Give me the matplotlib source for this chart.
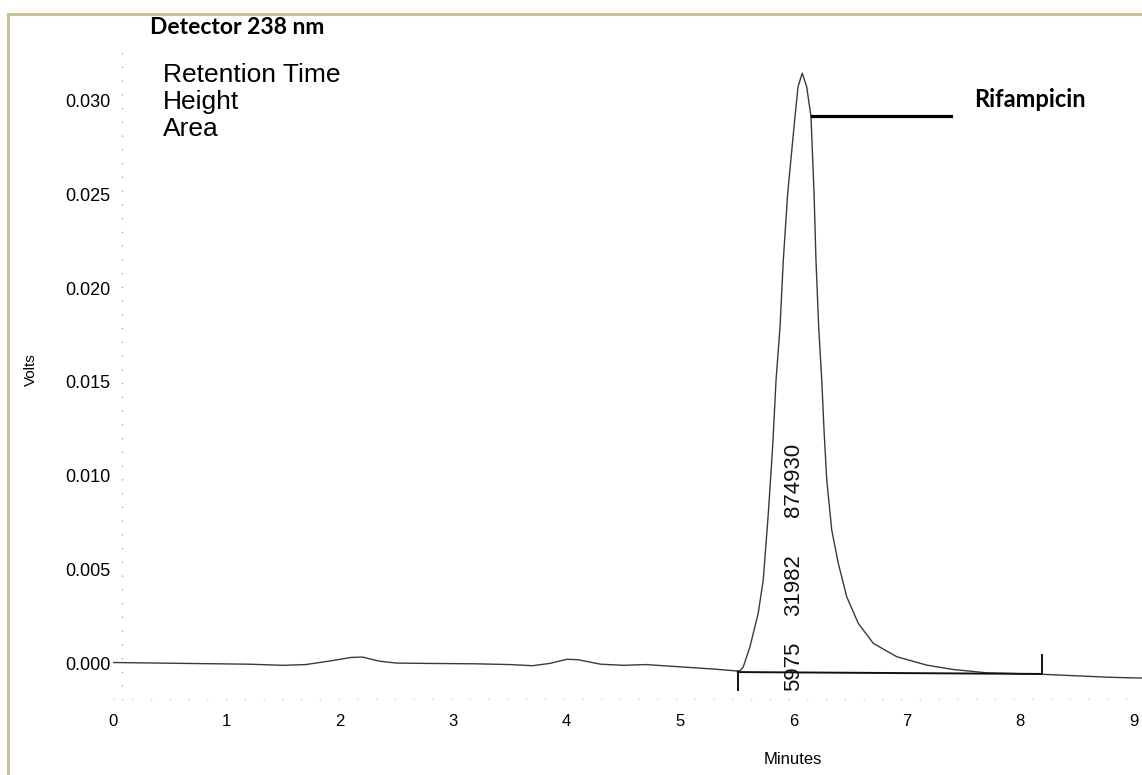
import matplotlib
matplotlib.use("Agg")
from matplotlib import pyplot as plt
from matplotlib.lines import Line2D

# chromatogram trace (minutes, volts)
minutes = [0.0, 0.4, 0.8, 1.2, 1.5, 1.7, 1.9, 2.1, 2.2, 2.35, 2.5, 2.8, 3.2, 3.5,
           3.7, 3.85, 4.0, 4.1, 4.3, 4.5, 4.7, 4.9, 5.1, 5.3, 5.5, 5.53, 5.558,
           5.617, 5.69, 5.734, 5.779, 5.817, 5.847, 5.882, 5.911, 5.95, 6.014,
           6.041, 6.078, 6.117, 6.155, 6.182, 6.199, 6.223, 6.25, 6.27,
           6.294, 6.338, 6.396, 6.47, 6.572, 6.705, 6.911, 7.176, 7.407,
           7.704, 8.2, 8.5, 8.8, 9.07]
volts = [0.00003, 0.0, -0.00003, -0.00006, -0.00012, -0.00008, 0.0001, 0.0003,
         0.00032, 0.0001, 0.0, -0.00002, -0.00004, -0.00008, -0.00014,
         -0.00002, 0.0002, 0.00018, -0.00006, -0.00012, -0.00008, -0.00016,
         -0.00024, -0.00032, -0.00042, -0.0004, -0.0002, 0.00087, 0.00267,
         0.00443, 0.008, 0.01154, 0.0151, 0.01793, 0.0215, 0.02508, 0.02915,
         0.03075, 0.03147, 0.03075, 0.02915, 0.02508, 0.0215, 0.01793, 0.0151,
         0.01243, 0.00977, 0.0071, 0.00532, 0.00354, 0.00212, 0.00105,
         0.00034, -0.00011, -0.00034, -0.00052, -0.0006, -0.00068, -0.00076,
         -0.0008]

# integration baseline and its start/end markers
base_x = [5.51, 8.19]
base_y = [-0.00048, -0.00058]
start_mark = [-0.00048, -0.00144]
end_mark = [-0.00058, 0.00043]

# peak label leader line
leader_x = [6.16, 7.39]
leader_y = [0.02919, 0.02919]

peak_values = ["5975", "31982", "874930"]
peak_value_y = [-0.00018, 0.00416, 0.00975]
peak_value_x = 6.0

xticks = list(range(10))
yticks = [0.000, 0.005, 0.010, 0.015, 0.020, 0.025, 0.030]

W, H = 1142, 775
fig = plt.figure(figsize=(W / 100, H / 100), dpi=100)
ax = fig.add_axes([113 / W, 1 - 700 / H, (W - 113) / W, 660 / H])

# faint remains of the dotted axis lines on the scan
ax.axvline(0.08, color="#9a9a9a", lw=0.9, ls=(0, (1, 10)))
ax.axhline(-0.0019, color="#c4c4c4", lw=0.9, ls=(0, (1, 14)))

ax.plot(minutes, volts, color="#3a3a3a", lw=1.0)
ax.plot(base_x, base_y, color="#111111", lw=1.4)
ax.plot([base_x[0], base_x[0]], start_mark, color="#111111", lw=1.4)
ax.plot([base_x[1], base_x[1]], end_mark, color="#111111", lw=1.4)
ax.plot(leader_x, leader_y, color="black", lw=2.3)

for txt, yv in zip(peak_values, peak_value_y):
    ax.text(peak_value_x, yv, txt, rotation=90, ha="center", va="center",
            fontsize=16, family="Liberation Sans", color="#111111")

ax.text(7.59, 0.03004, "Rifampicin", fontsize=17, family="Lato",
        fontweight="bold", ha="left", va="center")

ax.set_xlim(0, (W - 113) / 113.4)
ax.set_ylim(-0.00197, 0.03324)
ax.set_xticks(xticks)
ax.set_yticks(yticks)
ax.set_xticklabels([str(t) for t in xticks], family="Liberation Sans", fontsize=12)
ax.set_yticklabels([f"{t:.3f}" for t in yticks], family="Liberation Sans", fontsize=13)
ax.tick_params(length=0)
ax.tick_params(axis="x", pad=10)
ax.tick_params(axis="y", pad=2)

for side in ["top", "right", "left", "bottom"]:
    ax.spines[side].set_visible(False)

fig.text(793 / W, 1 - 760 / H, "Minutes", ha="center", va="center",
         family="Liberation Sans", fontsize=12)
fig.text(31 / W, 1 - 370 / H, "Volts", ha="center", va="center", rotation=90,
         family="Liberation Sans", fontsize=11)

fig.text(150 / W, 1 - 27 / H, "Detector 238 nm", ha="left", va="center",
         family="Lato", fontweight="bold", fontsize=16.5)
for label, ypx in zip(["Retention Time", "Height", "Area"], [75, 102, 129]):
    fig.text(163 / W, 1 - ypx / H, label, ha="left", va="center",
             family="Liberation Sans", fontsize=19)

# tan frame on the left and top edges
frame = "#c9c09c"
fig.add_artist(Line2D([8 / W, 8 / W], [0, 1 - 14 / H], color=frame, lw=2.2,
                      transform=fig.transFigure))
fig.add_artist(Line2D([8 / W, 1], [1 - 14 / H, 1 - 14 / H], color=frame, lw=2.2,
                      transform=fig.transFigure))

fig.savefig("out.png", dpi=100)
